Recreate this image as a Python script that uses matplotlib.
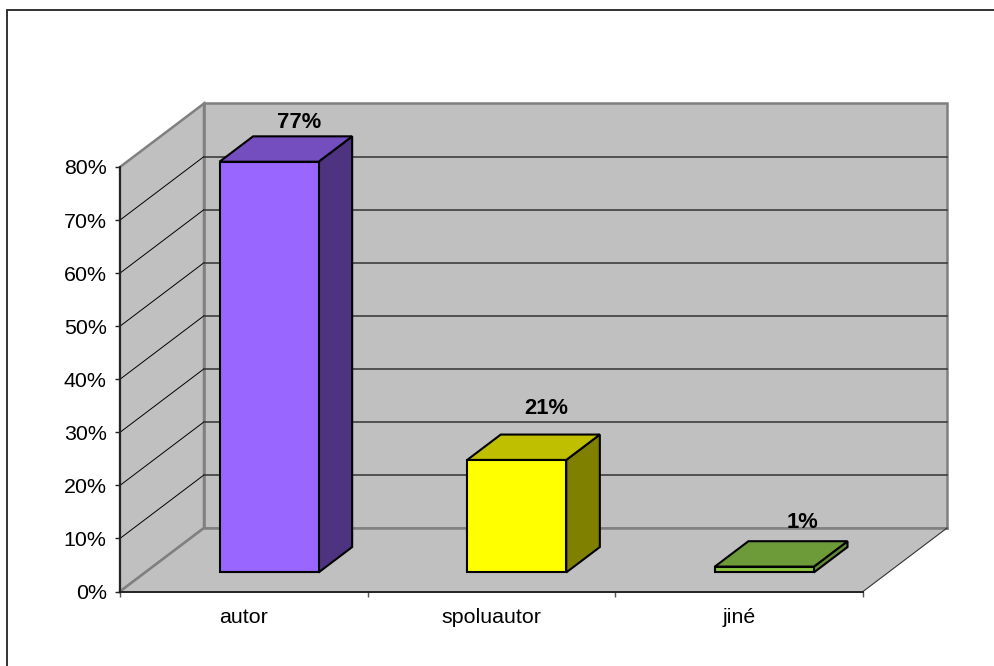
"""Excel-style 3D column chart, drawn as an oblique projection on a 2D axes."""
import matplotlib

matplotlib.use("Agg")
import matplotlib.pyplot as plt
from matplotlib.lines import Line2D
from matplotlib.patches import Polygon
from matplotlib.ticker import FuncFormatter

plt.rcParams["font.family"] = ["Liberation Sans", "DejaVu Sans"]

CATEGORIES = ["autor", "spoluautor", "jiné"]
VALUES = [77.4, 21.2, 1.1]
Y_TICKS = [0, 10, 20, 30, 40, 50, 60, 70, 80]

FRONT_COLORS = ["#9966ff", "#ffff00", "#8cc63f"]
TOP_COLORS = ["#744dbf", "#bfbf00", "#6d9b3a"]
SIDE_COLORS = ["#4d3380", "#808000", "#5f8a33"]
# where Excel left the data labels, in pixels from the bar's top front centre
LABEL_OFFSETS = [(30, 39), (30, 51), (38, 44)]

WALL = "#c0c0c0"
EDGE = "#808080"
INK = "#000000"
TEXT_SIZE = 15.4
BOLD_SIZE = 15.8

W, H = 994, 666
# front plane of the box in pixels
LEFT, RIGHT, BOTTOM, TOP = 120, 863, 591.5, 167
# full depth of the box, in data units
DEPTH_X = 84 / (RIGHT - LEFT) * len(CATEGORIES)
DEPTH_Y = 63.5 / (BOTTOM - TOP) * Y_TICKS[-1]
BAR_WIDTH = 0.4
BAR_DEPTH = (0.3, 0.7)


def project(x, y, depth):
    return x + depth * DEPTH_X, y + depth * DEPTH_Y


def face(ax, corners, color, zorder, edge=INK, lw=1.5):
    pts = [project(*c) for c in corners]
    ax.add_patch(Polygon(pts, closed=True, facecolor=color, edgecolor=edge,
                         linewidth=lw, joinstyle="miter", clip_on=False, zorder=zorder))


fig = plt.figure(figsize=(W / 100, H / 100), dpi=100, facecolor="white")
ax = fig.add_axes([LEFT / W, 1 - BOTTOM / H, (RIGHT - LEFT) / W, (BOTTOM - TOP) / H])
ax.set_facecolor("none")
n = len(CATEGORIES)
y_max = Y_TICKS[-1]
ax.set_xlim(0, n)
ax.set_ylim(0, y_max)

# walls and floor
face(ax, [(0, 0, 1), (n, 0, 1), (n, y_max, 1), (0, y_max, 1)], WALL, 1, edge=EDGE, lw=1.8)
face(ax, [(0, 0, 0), (0, 0, 1), (0, y_max, 1), (0, y_max, 0)], WALL, 1, edge=EDGE, lw=1.8)
face(ax, [(0, 0, 0), (n, 0, 0), (n, 0, 1), (0, 0, 1)], WALL, 1, edge="none", lw=0)

# re-stroke the floor's back edge, which the floor fill covers
xs, ys = zip(project(0, 0, 1), project(n, 0, 1))
ax.plot(xs, ys, color=EDGE, lw=1.8, zorder=2, clip_on=False)
xs, ys = zip(project(0, 0, 0), project(0, 0, 1))
ax.plot(xs, ys, color=EDGE, lw=1.8, zorder=2, clip_on=False)
xs, ys = zip(project(n, 0, 0), project(n, 0, 1))
ax.plot(xs, ys, color="#333333", lw=0.8, zorder=2, clip_on=False)

# gridlines: along the left wall, then across the back wall
for tick in Y_TICKS[1:-1]:
    xs, ys = zip(project(0, tick, 0), project(0, tick, 1))
    ax.plot(xs, ys, color=INK, lw=0.7, zorder=2, clip_on=False)
    xs, ys = zip(project(0, tick, 1), project(n, tick, 1))
    ax.plot(xs, ys, color="#333333", lw=1.1, zorder=2, clip_on=False)

# bars
d0, d1 = BAR_DEPTH
for i, value in enumerate(VALUES):
    x0 = i + 0.5 - BAR_WIDTH / 2
    x1 = i + 0.5 + BAR_WIDTH / 2
    face(ax, [(x1, 0, d0), (x1, 0, d1), (x1, value, d1), (x1, value, d0)], SIDE_COLORS[i], 3)
    face(ax, [(x0, value, d0), (x1, value, d0), (x1, value, d1), (x0, value, d1)], TOP_COLORS[i], 3)
    face(ax, [(x0, 0, d0), (x1, 0, d0), (x1, value, d0), (x0, value, d0)], FRONT_COLORS[i], 4)
    ax.annotate(f"{value:.0f}%", project(i + 0.5, value, d0), xytext=LABEL_OFFSETS[i],
                textcoords="offset pixels", ha="center", va="center",
                fontsize=BOLD_SIZE, fontweight="bold", color=INK, zorder=5, annotation_clip=False)

# axes
for spine in ("top", "right"):
    ax.spines[spine].set_visible(False)
for spine in ("left", "bottom"):
    ax.spines[spine].set_color("#222222")
    ax.spines[spine].set_linewidth(1.4)
    ax.spines[spine].set_zorder(6)

ax.set_yticks(Y_TICKS)
ax.yaxis.set_major_formatter(FuncFormatter(lambda v, _: f"{v:.0f}%"))
ax.tick_params(axis="y", length=3.6, width=1, color="#222222", labelsize=TEXT_SIZE,
               labelcolor=INK, pad=6)

ax.set_xticks(range(n + 1))
ax.set_xticklabels([])
ax.set_xticks([i + 0.5 for i in range(n)], labels=CATEGORIES, minor=True)
ax.tick_params(axis="x", which="major", length=3.6, width=1, color="#555555")
ax.tick_params(axis="x", which="minor", length=0, labelsize=TEXT_SIZE, labelcolor=INK, pad=12)

# chart-area border, its right and bottom sides fall outside the picture
fig.add_artist(Line2D([7.4 / W, 7.4 / W, 1], [0, 1 - 10 / H, 1 - 10 / H],
                      color="#222222", lw=1.3, solid_joinstyle="miter"))

fig.savefig("out.png", dpi=100, facecolor="white")
plt.close(fig)
